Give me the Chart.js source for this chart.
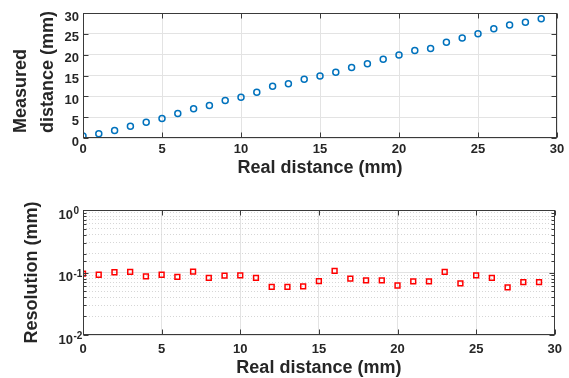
<!DOCTYPE html>
<html><head><meta charset="utf-8">
<script src="https://cdn.jsdelivr.net/npm/chart.js@4.4.0/dist/chart.umd.min.js"></script>
<style>
html,body{margin:0;padding:0;background:#fff;}
#wrap{position:relative;width:569px;height:378px;overflow:hidden;}
#c1{position:absolute;left:0;top:0;}
#c2{position:absolute;left:0;top:190px;}
</style></head><body>
<div id="wrap"><canvas id="c1" width="569" height="190"></canvas><canvas id="c2" width="569" height="188"></canvas></div>
<script>
// ---- data ----
const realDistance = [0,1,2,3,4,5,6,7,8,9,10,11,12,13,14,15,16,17,18,19,20,21,22,23,24,25,26,27,28,29];
const measuredDistance = [0.5,1.0,1.8,2.8,3.8,4.7,5.9,7.0,7.8,9.0,9.8,11.0,12.4,13.0,14.1,14.9,15.8,16.9,17.8,18.9,19.9,21.0,21.5,23.0,24.0,25.0,26.2,27.1,27.8,28.6];
const resolution = [0.096,0.092,0.101,0.102,0.087,0.092,0.085,0.103,0.082,0.089,0.090,0.082,0.059,0.059,0.060,0.073,0.106,0.080,0.075,0.075,0.062,0.072,0.072,0.102,0.067,0.090,0.082,0.058,0.070,0.070];
const xTickValues = [0,5,10,15,20,25,30];
const measuredTickValues = [0,5,10,15,20,25,30];
const resolutionDecades = [0.01,0.1,1];
const resolutionExponents = ['-2','-1','0'];

const TXT = '#262626';
const FONT = "'Liberation Sans', Arial, sans-serif";
const GRID = '#e3e3e3';

function isDecade(v){ const l = Math.log10(v); return Math.abs(l - Math.round(l)) < 1e-6; }

const boxPlugin = {
  id: 'box',
  afterDatasetsDraw(chart){
    const {ctx, chartArea: a, scales} = chart;
    const L = Math.round(a.left)+0.5, R = Math.round(a.right)-0.5, T = Math.round(a.top)+0.5, B = Math.round(a.bottom)-0.5;
    ctx.save();
    ctx.strokeStyle = '#3a3a3a';
    ctx.lineWidth = 1;
    ctx.beginPath();
    const xs = scales.x;
    xs.ticks.forEach(t => {
      const p = Math.round(xs.getPixelForValue(t.value)) + 0.5;
      ctx.moveTo(p, B); ctx.lineTo(p, B - 5);
      ctx.moveTo(p, T); ctx.lineTo(p, T + 5);
    });
    const ys = scales.y;
    ys.ticks.forEach(t => {
      const len = ys.type === 'logarithmic' ? (isDecade(t.value) ? 5 : 3) : 5;
      const p = Math.round(ys.getPixelForValue(t.value)) + 0.5;
      ctx.moveTo(L, p); ctx.lineTo(L + len, p);
      ctx.moveTo(R, p); ctx.lineTo(R - len, p);
    });
    ctx.stroke();
    ctx.strokeRect(L, T, R - L, B - T);
    ctx.restore();
  }
};

// draws the exponent part of the "10^n" log tick labels
const exponentPlugin = {
  id: 'exponents',
  afterDraw(chart){
    const {ctx, scales} = chart;
    const ys = scales.y;
    ctx.save();
    ctx.font = "bold 10px " + FONT;
    ctx.fillStyle = TXT;
    ctx.textAlign = 'left';
    ctx.textBaseline = 'middle';
    resolutionDecades.forEach((d, i) => {
      const p = ys.getPixelForValue(d);
      ctx.fillText(resolutionExponents[i], 73.5, p + 1.5);
    });
    ctx.restore();
  }
};

const tickFont = {family: FONT, size: 13, weight: 'bold'};
const titleFont = {family: FONT, size: 18, weight: 'bold', lineHeight: 1};

// ---- top chart ----
new Chart(document.getElementById('c1'), {
  type: 'scatter',
  data: {
    datasets: [{
      data: realDistance.map((x,i) => ({x, y: measuredDistance[i]})),
      pointStyle: 'circle', pointRadius: 3, borderWidth: 1.5,
      borderColor: '#0072BD', backgroundColor: 'rgba(0,0,0,0)', showLine: false
    }]
  },
  options: {
    responsive: false, animation: false,
    layout: {padding: {top: 13, right: 12, left: 0, bottom: 0}},
    plugins: {legend: {display: false}, tooltip: {enabled: false}},
    scales: {
      x: {
        type: 'linear', min: 0, max: 30,
        afterBuildTicks: s => { s.ticks = xTickValues.map(v => ({value: v})); },
        ticks: {font: tickFont, color: TXT, padding: 4, maxRotation: 0},
        grid: {color: GRID, drawTicks: false},
        border: {display: false},
        title: {display: true, text: 'Real distance (mm)', font: titleFont, color: TXT, padding: {top: 0, bottom: 13}},
        afterFit: s => { s.height = 52; }
      },
      y: {
        type: 'linear', min: 0, max: 30,
        afterBuildTicks: s => { s.ticks = measuredTickValues.map(v => ({value: v})); },
        ticks: {font: tickFont, color: TXT, padding: 4, labelOffset: 4},
        grid: {color: GRID, drawTicks: false},
        border: {display: false},
        title: {display: true, align: 'start', text: [' Measured', ' distance (mm)'], font: {family: FONT, size: 18, weight: 'bold', lineHeight: 1.5}, color: TXT, padding: {top: 8, bottom: 0}},
        afterFit: s => { s.width = 83; }
      }
    }
  },
  plugins: [boxPlugin]
});

// ---- bottom chart ----
new Chart(document.getElementById('c2'), {
  type: 'scatter',
  data: {
    datasets: [{
      data: realDistance.map((x,i) => ({x, y: resolution[i]})),
      pointStyle: 'rect', pointRadius: 3.4, borderWidth: 1.5,
      borderColor: '#FF0000', backgroundColor: 'rgba(0,0,0,0)', showLine: false
    }]
  },
  options: {
    responsive: false, animation: false,
    layout: {padding: {top: 20, right: 10, left: 0, bottom: 0}},
    plugins: {legend: {display: false}, tooltip: {enabled: false}},
    scales: {
      x: {
        type: 'linear', min: 0, max: 30,
        afterBuildTicks: s => { s.ticks = xTickValues.map(v => ({value: v})); },
        ticks: {font: tickFont, color: TXT, padding: 7, maxRotation: 0},
        grid: {color: GRID, drawTicks: false},
        border: {display: false},
        title: {display: true, text: 'Real distance (mm)', font: titleFont, color: TXT, padding: {top: 0, bottom: 1}},
        afterFit: s => { s.height = 43; }
      },
      y: {
        type: 'logarithmic', min: 0.01, max: 1,
        ticks: {font: tickFont, color: TXT, padding: 10, labelOffset: 5, autoSkip: false,
          callback: v => isDecade(v) ? '10' : ''},
        grid: {color: ctx => (ctx.tick && isDecade(ctx.tick.value)) ? GRID : '#d6d6d6', drawTicks: false},
        border: {display: false, dash: ctx => (ctx.tick && !isDecade(ctx.tick.value)) ? [1, 2] : []},
        title: {display: true, text: 'Resolution (mm)', font: {family: FONT, size: 18, weight: 'bold', lineHeight: 1.2}, color: TXT, padding: {top: 21, bottom: 0}},
        afterFit: s => { s.width = 83; }
      }
    }
  },
  plugins: [boxPlugin, exponentPlugin]
});
</script>
</body></html>
